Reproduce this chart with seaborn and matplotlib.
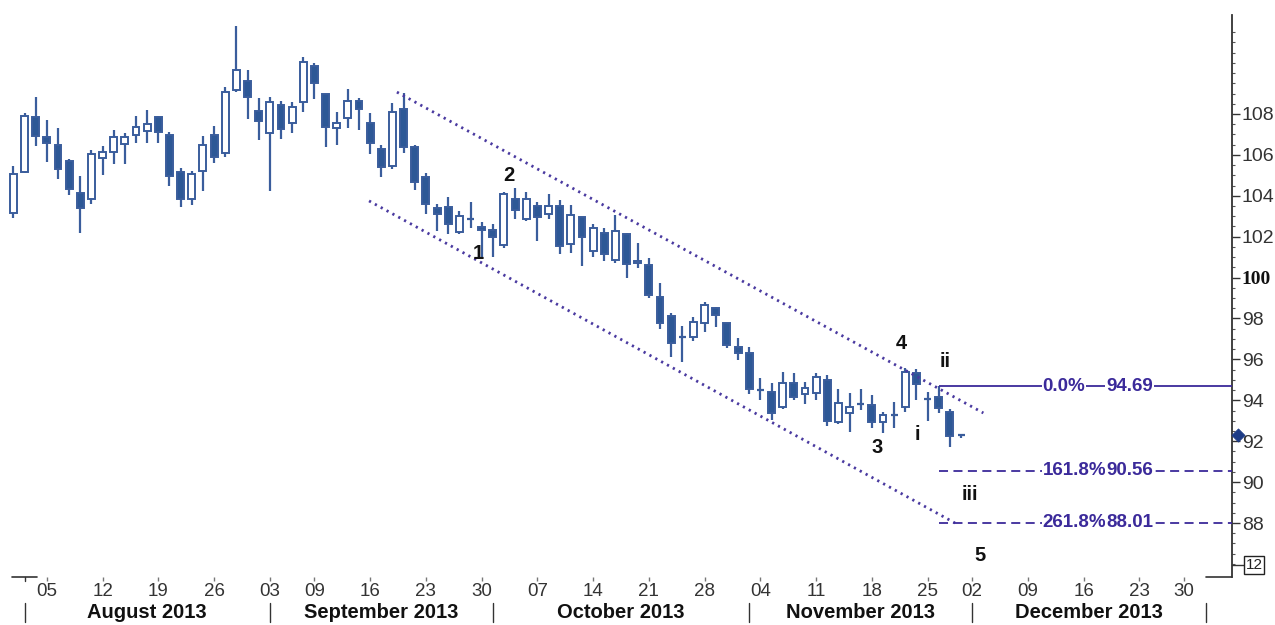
import numpy as np
import pandas as pd
import matplotlib
matplotlib.use("Agg")
import matplotlib.pyplot as plt
from matplotlib.lines import Line2D
import matplotlib.transforms as mtransforms
import seaborn as sns

# daily candles, 31 Jul 2013 .. 29 Nov 2013 (trading days)
opens = [103.14, 105.18, 107.84, 106.89, 106.48, 105.72, 104.15, 103.84, 105.85, 106.16,
         106.53, 106.97, 107.18, 107.84, 106.97, 105.18, 103.84, 105.21, 106.97, 106.08,
         109.17, 109.61, 108.16, 107.06, 108.44, 107.57, 108.58, 110.35, 109.00, 107.33,
         107.79, 108.65, 107.57, 106.27, 105.46, 108.23, 106.40, 104.90, 103.42, 103.47,
         102.24, 102.90, 102.49, 102.33, 101.60, 103.83, 102.85, 103.50, 103.11, 103.50,
         101.64, 102.95, 101.32, 102.20, 100.86, 102.13, 100.70, 100.62, 99.07, 98.12,
         97.11, 97.11, 97.79, 98.50, 97.77, 96.62, 96.30, 94.54, 94.42, 93.66,
         94.86, 94.31, 94.34, 94.99, 92.95, 93.39, 93.82, 93.77, 92.95, 93.28,
         93.69, 95.32, 94.05, 94.18, 93.44, 92.25]
highs = [105.46, 108.06, 108.85, 107.71, 107.30, 105.78, 104.97, 106.24, 106.45, 107.22,
         107.06, 107.90, 108.20, 107.90, 107.13, 105.34, 105.23, 106.92, 107.41, 109.31,
         112.32, 110.15, 108.77, 108.85, 108.65, 108.60, 110.77, 110.48, 109.00, 108.11,
         109.21, 108.80, 108.03, 106.48, 108.52, 109.01, 106.48, 105.10, 103.60, 103.96,
         103.27, 103.71, 102.73, 102.62, 104.20, 104.37, 104.20, 103.71, 104.09, 103.79,
         103.55, 102.98, 102.62, 102.41, 103.06, 102.20, 101.71, 100.94, 99.75, 98.25,
         97.63, 98.06, 98.82, 98.55, 97.79, 97.03, 96.62, 95.08, 94.83, 95.40,
         95.32, 94.91, 95.35, 95.24, 94.54, 94.37, 94.54, 94.26, 93.44, 93.93,
         95.56, 95.51, 94.42, 94.69, 93.56, 92.34]
lows = [102.90, 105.10, 106.45, 105.67, 104.80, 104.04, 102.17, 103.60, 105.02, 105.56,
        105.56, 106.57, 106.57, 106.57, 104.48, 103.47, 103.55, 104.25, 105.59, 105.91,
        109.09, 107.74, 106.73, 104.21, 106.76, 107.09, 108.11, 108.72, 106.40, 106.48,
        107.30, 107.22, 106.03, 104.93, 105.30, 106.11, 104.28, 103.11, 102.30, 102.13,
        102.13, 102.41, 100.99, 100.99, 101.43, 102.85, 102.78, 101.80, 102.85, 101.15,
        101.19, 100.57, 100.99, 100.80, 100.70, 99.97, 100.45, 98.99, 97.47, 96.13,
        95.89, 96.91, 97.35, 97.60, 96.54, 95.97, 94.31, 94.01, 93.04, 93.56,
        94.01, 93.82, 94.01, 92.74, 92.84, 92.46, 93.53, 92.63, 92.39, 92.63,
        93.44, 94.01, 93.00, 93.36, 91.70, 92.18]
closes = [105.07, 107.90, 106.92, 106.57, 105.30, 104.33, 103.39, 106.03, 106.14, 106.89,
          106.89, 107.35, 107.50, 107.13, 104.97, 103.84, 105.07, 106.48, 105.91, 109.06,
          110.15, 108.82, 107.67, 108.60, 107.25, 108.36, 110.56, 109.50, 107.38, 107.57,
          108.65, 108.23, 106.60, 105.42, 108.08, 106.37, 104.69, 103.60, 103.11, 102.62,
          103.01, 102.88, 102.33, 102.00, 104.09, 103.31, 103.83, 102.98, 103.50, 101.55,
          103.06, 101.97, 102.41, 101.17, 102.27, 100.68, 100.83, 99.15, 97.77, 96.79,
          97.09, 97.84, 98.66, 98.17, 96.70, 96.33, 94.54, 94.52, 93.36, 94.83,
          94.18, 94.59, 95.12, 93.00, 93.85, 93.69, 93.80, 92.95, 93.28, 93.30,
          95.40, 94.80, 94.07, 93.61, 92.25, 92.28]

holidays = ["2013-09-02", "2013-11-28", "2013-12-25", "2014-01-01"]
month_names = ["August 2013", "September 2013", "October 2013", "November 2013", "December 2013"]

# Elliott wave labels: (text, trading-day position, price)
wave_text = ["1", "2", "3", "4", "i", "ii", "iii", "5"]
wave_x = [41.7, 44.4, 77.5, 79.6, 81.1, 83.6, 85.8, 86.7]
wave_y = [101.2, 105.0, 91.7, 96.8, 92.35, 95.9, 89.4, 86.4]

# trend channel end points
upper_x = [34.4, 87.0]
upper_y = [109.07, 93.38]
lower_x = [31.9, 84.45]
lower_y = [103.75, 88.0]

# fibonacci projection levels
fib_pct = ["0.0%", "161.8%", "261.8%"]
fib_val = [94.69, 90.56, 88.01]
last_price = 92.28

sns.set_style("white")
plt.rcParams["font.family"] = ["Liberation Sans Narrow", "Liberation Sans", "DejaVu Sans"]

days = pd.bdate_range("2013-07-31", "2014-01-10")
days = days[~days.isin(pd.to_datetime(holidays))]
pos = np.arange(len(days))
df = pd.DataFrame({"date": days, "pos": pos})

candles = pd.DataFrame({"pos": pos[:len(opens)], "open": opens, "high": highs,
                        "low": lows, "close": closes})

W, H = 1275, 625
fig = plt.figure(figsize=(W / 100, H / 100), dpi=100)
ax = fig.add_axes([0, 1 - 577 / H, 1232 / W, (577 - 15) / H])

edge = "#3a5d9c"
fill = "#2d5896"
ax.vlines(candles["pos"], candles["low"], candles["high"], color=edge, lw=1.6, zorder=2)
for _, c in candles.iterrows():
    h = c["close"] - c["open"]
    if abs(h) < 0.05:
        ax.hlines(c["close"], c["pos"] - 0.32, c["pos"] + 0.32, color=edge, lw=1.6, zorder=3)
        continue
    fc = "white" if h > 0 else fill
    ax.bar(c["pos"], h, bottom=c["open"], width=0.62, color=fc, edgecolor=edge,
           linewidth=1.4, zorder=3)

# channel
chan = "#4a3aa0"
ax.plot(upper_x, upper_y, color=chan, lw=2.0, ls=(0, (0.8, 1.6)), zorder=4)
ax.plot(lower_x, lower_y, color=chan, lw=2.0, ls=(0, (0.8, 1.6)), zorder=4)

xmin, xmax = -1.2, 109.3
fib_col = "#3b2a9a"
for i, (p, v) in enumerate(zip(fib_pct, fib_val)):
    ls = "-" if i == 0 else (0, (5, 3))
    ax.hlines(v, 83, xmax, color=fib_col, lw=1.3, linestyles=ls, zorder=4)
    for txt, xx in [(p, 92.3), (f"{v:.2f}", 98.0)]:
        ax.text(xx, v, txt, color=fib_col, fontsize=13.5, fontweight="bold", ha="left",
                va="center", zorder=5,
                bbox=dict(boxstyle="square,pad=0.05", fc="white", ec="none"))

for t, xx, yy in zip(wave_text, wave_x, wave_y):
    ax.text(xx, yy, t, fontsize=14.5, fontweight="bold", color="#111111",
            family=["Liberation Sans", "DejaVu Sans"], ha="center", va="center", zorder=6)

sns.scatterplot(x=[109.85], y=[last_price], marker="D", s=45, color="#1c3b86",
                edgecolor="#1c3b86", ax=ax, clip_on=False, zorder=7, legend=False)

ax.set_xlim(xmin, xmax)
ax.set_ylim(85.36, 112.84)

# right price axis
for s in ["top", "left", "bottom"]:
    ax.spines[s].set_visible(False)
ax.spines["right"].set_color("#333333")
ax.spines["right"].set_linewidth(1.3)
ax.yaxis.tick_right()
yt = np.arange(88, 110, 2)
ax.set_yticks(yt)
ax.set_yticklabels([str(v) for v in yt])
ax.set_yticks(np.arange(86, 112.5, 0.5), minor=True)
ax.tick_params(axis="y", which="major", length=6, width=1, color="#333333",
               labelsize=14, labelcolor="#333333", pad=1)
ax.tick_params(axis="y", which="minor", length=2.5, width=0.8, color="#555555")
for lab in ax.get_yticklabels():
    if lab.get_text() == "100":
        lab.set_fontfamily(["Liberation Serif", "DejaVu Serif"])
        lab.set_fontweight("bold")
        lab.set_color("#111111")

# week ticks along the bottom
week = df["date"].dt.isocalendar().week
wk = df[(week != week.shift()) & (df["date"] >= "2013-08-05") & (df["date"] <= "2013-12-31")]
ax.set_xticks(wk["pos"])
ax.set_xticklabels(wk["date"].dt.strftime("%d"))
ax.tick_params(axis="x", length=3, width=1, color="#777777", labelsize=13.5,
               labelcolor="#333333", pad=1, bottom=True)

# month separators and names
mstart = df.groupby(df["date"].dt.to_period("M"))["pos"].min()
bounds = list(mstart.values[1:7])
trans = mtransforms.blended_transform_factory(ax.transData, ax.transAxes)
for b in bounds:
    ax.plot([b, b], [-0.046, -0.080], color="#333333", lw=1, transform=trans, clip_on=False)
for name, a, b in zip(month_names, bounds[:-1], bounds[1:]):
    ax.text((a + b) / 2, -0.064, name, transform=trans, ha="center", va="center",
            fontsize=14.5, fontweight="bold", family=["Liberation Sans", "DejaVu Sans"],
            color="#111111")

# small axis fragments at the bottom corners
ax.plot([-0.1, 2.1], [0, 0], color="#333333", lw=1.2, transform=trans, clip_on=False)
ax.plot([1, 1], [0, -0.008], color="#333333", lw=1, transform=trans, clip_on=False)
ax.plot([107.0, xmax], [0, 0], color="#333333", lw=1.2, transform=trans, clip_on=False)
fig.add_artist(Line2D([1232 / W, 1245 / W], [1 - 565 / H, 1 - 565 / H], color="#333333", lw=1))
fig.text(1254 / W, 1 - 565 / H, "12", ha="center", va="center", fontsize=11, color="#222222",
         bbox=dict(boxstyle="square,pad=0.12", fc="white", ec="#222222", lw=1))

fig.savefig("out.png", dpi=100)
